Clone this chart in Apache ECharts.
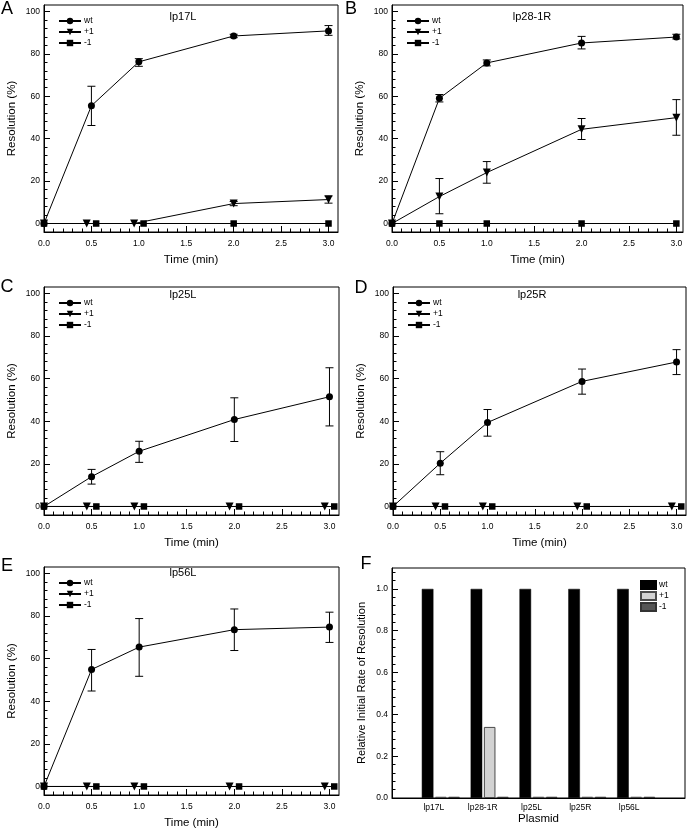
<!DOCTYPE html>
<html><head><meta charset="utf-8">
<script src="https://cdn.jsdelivr.net/npm/echarts@6/dist/echarts.min.js"></script>
<style>html,body{margin:0;padding:0;background:#fff}#c{width:688px;height:832px}</style>
</head><body><div id="c"></div>
<script>
// ---------- DATA ----------
const seriesNames = ['wt', '+1', '-1'];
const panelLetters = ['A', 'B', 'C', 'D', 'E', 'F'];
const panelTitles = ['lp17L', 'lp28-1R', 'lp25L', 'lp25R', 'lp56L'];
const xTickValues = [0, 0.5, 1, 1.5, 2, 2.5, 3];
const yTickValues = [0, 20, 40, 60, 80, 100];
const fTickValues = [0, 0.2, 0.4, 0.6, 0.8, 1.0];

// Panel A lp17L
const aWtX = [0, 0.5, 1, 2, 3];
const aWtY = [0, 55.5, 76.2, 88.4, 90.8];
const aWtLo = [0, 46.2, 74.1, 87.6, 88.7];
const aWtHi = [0, 64.7, 77.7, 89.2, 93.3];
const aP1X = [0, 0.45, 0.95, 2, 3];
const aP1Y = [0, 0, 0, 9.4, 11.3];
const aP1Lo = [0, 0, 0, 8.4, 9.6];
const aP1Hi = [0, 0, 0, 10.4, 13.0];
const aM1X = [0, 0.55, 1.05, 2, 3];
const aM1Y = [0, 0, 0, 0, 0];

// Panel B lp28-1R
const bWtX = [0, 0.5, 1, 2, 3];
const bWtY = [0, 59.0, 75.7, 85.1, 87.9];
const bWtLo = [0, 57.3, 74.3, 82.3, 87.0];
const bWtHi = [0, 60.8, 77.1, 88.2, 89.2];
const bP1X = [0, 0.5, 1, 2, 3];
const bP1Y = [0, 12.7, 24.0, 44.4, 49.9];
const bP1Lo = [0, 4.6, 19.0, 39.6, 41.6];
const bP1Hi = [0, 21.2, 29.2, 49.5, 58.4];
const bM1X = [0, 0.5, 1, 2, 3];
const bM1Y = [0, 0, 0, 0, 0];

// Panel C lp25L
const cWtX = [0, 0.5, 1, 2, 3];
const cWtY = [0, 14.0, 25.9, 40.8, 51.5];
const cWtLo = [0, 10.5, 20.7, 30.5, 37.8];
const cWtHi = [0, 17.4, 30.6, 51.0, 65.1];
const cP1X = [0, 0.45, 0.95, 1.95, 2.95];
const cP1Y = [0, 0, 0, 0, 0];
const cM1X = [0, 0.55, 1.05, 2.05, 3.05];
const cM1Y = [0, 0, 0, 0, 0];

// Panel D lp25R
const dWtX = [0, 0.5, 1, 2, 3];
const dWtY = [0, 20.3, 39.4, 58.7, 67.8];
const dWtLo = [0, 14.9, 33.0, 52.7, 61.9];
const dWtHi = [0, 25.7, 45.5, 64.5, 73.6];
const dP1X = [0, 0.45, 0.95, 1.95, 2.95];
const dP1Y = [0, 0, 0, 0, 0];
const dM1X = [0, 0.55, 1.05, 2.05, 3.05];
const dM1Y = [0, 0, 0, 0, 0];

// Panel E lp56L
const eWtX = [0, 0.5, 1, 2, 3];
const eWtY = [0, 54.9, 65.4, 73.6, 74.8];
const eWtLo = [0, 44.8, 51.7, 63.8, 67.6];
const eWtHi = [0, 64.3, 78.8, 83.3, 81.8];
const eP1X = [0, 0.45, 0.95, 1.95, 2.95];
const eP1Y = [0, 0, 0, 0, 0];
const eM1X = [0, 0.55, 1.05, 2.05, 3.05];
const eM1Y = [0, 0, 0, 0, 0];

// Panel F: relative initial rate of resolution
const plasmids = ['lp17L', 'lp28-1R', 'lp25L', 'lp25R', 'lp56L'];
const rateWt = [1.0, 1.0, 1.0, 1.0, 1.0];
const rateP1 = [0.006, 0.34, 0.006, 0.006, 0.006];
const rateM1 = [0.006, 0.006, 0.006, 0.006, 0.006];

// ---------- BUILD ----------
const FONT = '"Liberation Sans", Arial, Helvetica, sans-serif';
const zip2 = (xs, ys) => xs.map((x, i) => [x, ys[i]]);
const zip3 = (xs, lo, hi) => xs.map((x, i) => [x, lo[i], hi[i]]);

const panels = [
  { wt: [aWtX, aWtY, aWtLo, aWtHi], p1: [aP1X, aP1Y, aP1Lo, aP1Hi], m1: [aM1X, aM1Y] },
  { wt: [bWtX, bWtY, bWtLo, bWtHi], p1: [bP1X, bP1Y, bP1Lo, bP1Hi], m1: [bM1X, bM1Y] },
  { wt: [cWtX, cWtY, cWtLo, cWtHi], p1: [cP1X, cP1Y], m1: [cM1X, cM1Y] },
  { wt: [dWtX, dWtY, dWtLo, dWtHi], p1: [dP1X, dP1Y], m1: [dM1X, dM1Y] },
  { wt: [eWtX, eWtY, eWtLo, eWtHi], p1: [eP1X, eP1Y], m1: [eM1X, eM1Y] }
];

// layout (positions/sizes only)
const grids = [
  { left: 44, top: 5, width: 294, height: 227 },
  { left: 392, top: 5, width: 291, height: 227 },
  { left: 44, top: 287, width: 295, height: 228 },
  { left: 393, top: 287, width: 293, height: 228 },
  { left: 44, top: 567, width: 295, height: 228 },
  { left: 392, top: 568, width: 294, height: 230 }
];
const xMaxes = [3.1, 3.07, 3.1, 3.1, 3.1];
const legendPos = [[58, 16], [406, 16], [58, 298], [407, 298], [58, 578]];
const titlePos = [[183, 17], [532, 17], [183, 295], [532, 295], [183, 573]];
const letterPos = [[7, 9], [351, 9], [7, 287], [361, 288], [7, 566], [366, 564]];

function range(start, stop, step) {
  const out = [];
  for (let k = 0; ; k++) {
    const v = Math.round((start + k * step) * 1000) / 1000;
    if (v > stop + 1e-9) break;
    out.push(v);
  }
  return out;
}
const xAllTicks = range(0, 3.0, 0.1);
const yAllTicks = range(0, 100, 4);
const fAllTicks = range(0, 1.08, 0.04);

const black = '#000';
const tickLabel = { fontSize: 8.5, color: black, fontFamily: FONT };
const nameStyle = { fontSize: 11.5, color: black, fontFamily: FONT };

const xAxes = [], yAxes = [], series = [], legends = [];

function errRender(params, api) {
  const x = api.value(0), lo = api.value(1), hi = api.value(2);
  if (!(hi - lo > 0)) return null;
  const pH = api.coord([x, hi]), pL = api.coord([x, lo]);
  const hw = 4;
  const st = { stroke: black, lineWidth: 1 };
  return {
    type: 'group', children: [
      { type: 'line', shape: { x1: pH[0], y1: pH[1], x2: pL[0], y2: pL[1] }, style: st },
      { type: 'line', shape: { x1: pH[0] - hw, y1: pH[1], x2: pH[0] + hw, y2: pH[1] }, style: st },
      { type: 'line', shape: { x1: pL[0] - hw, y1: pL[1], x2: pL[0] + hw, y2: pL[1] }, style: st }
    ]
  };
}

panels.forEach((p, i) => {
  // main x axis: all (minor) ticks + labels
  xAxes.push({
    type: 'value', gridIndex: i, min: 0, max: xMaxes[i], position: 'bottom',
    axisLine: { show: true, onZero: false, lineStyle: { color: black, width: 1 } },
    axisTick: { show: true, inside: true, length: 3.5, customValues: xAllTicks, lineStyle: { color: black } },
    axisLabel: { customValues: xTickValues, formatter: v => v.toFixed(1), margin: 7, ...tickLabel },
    splitLine: { show: false },
    name: 'Time (min)', nameLocation: 'middle', nameGap: 22, nameTextStyle: nameStyle
  });
  // major x ticks (longer)
  xAxes.push({
    type: 'value', gridIndex: i, min: 0, max: xMaxes[i], position: 'bottom',
    axisLine: { show: false, onZero: false },
    axisTick: { show: true, inside: true, length: 6, customValues: xTickValues, lineStyle: { color: black } },
    axisLabel: { show: false }, splitLine: { show: false }
  });
  yAxes.push({
    type: 'value', gridIndex: i, min: -4, max: 103, position: 'left',
    axisLine: { show: true, onZero: false, lineStyle: { color: black, width: 1 } },
    axisTick: { show: true, inside: true, length: 3.5, customValues: yAllTicks, lineStyle: { color: black } },
    axisLabel: { customValues: yTickValues, margin: 4, ...tickLabel },
    splitLine: { show: false },
    name: 'Resolution (%)', nameLocation: 'middle', nameGap: 26, nameTextStyle: nameStyle
  });
  yAxes.push({
    type: 'value', gridIndex: i, min: -4, max: 103, position: 'left',
    axisLine: { show: false, onZero: false },
    axisTick: { show: true, inside: true, length: 6, customValues: yTickValues, lineStyle: { color: black } },
    axisLabel: { show: false }, splitLine: { show: false }
  });
  const xi = 2 * i, yi = 2 * i;
  const lineBase = {
    type: 'line', xAxisIndex: xi, yAxisIndex: yi, lineStyle: { color: black, width: 1 },
    itemStyle: { color: black }, showSymbol: true, animation: false, silent: true
  };
  series.push({ ...lineBase, name: seriesNames[2], symbol: 'rect', symbolSize: 6.5, data: zip2(p.m1[0], p.m1[1]), z: 2 });
  series.push({ ...lineBase, name: seriesNames[1], symbol: 'triangle', symbolRotate: 180, symbolSize: 8, data: zip2(p.p1[0], p.p1[1]), z: 3 });
  series.push({ ...lineBase, name: seriesNames[0], symbol: 'circle', symbolSize: 7, data: zip2(p.wt[0], p.wt[1]), z: 4 });
  series.push({
    type: 'custom', xAxisIndex: xi, yAxisIndex: yi, renderItem: errRender, silent: true, animation: false,
    encode: { x: 0, y: [1, 2] }, data: zip3(p.wt[0], p.wt[2], p.wt[3]), z: 5
  });
  if (p.p1.length > 2) {
    series.push({
      type: 'custom', xAxisIndex: xi, yAxisIndex: yi, renderItem: errRender, silent: true, animation: false,
      encode: { x: 0, y: [1, 2] }, data: zip3(p.p1[0], p.p1[2], p.p1[3]), z: 5
    });
  }
  legends.push({
    data: seriesNames, orient: 'vertical', left: legendPos[i][0], top: legendPos[i][1],
    itemWidth: 22, itemHeight: 8, itemGap: 1, padding: 0, selectedMode: false, symbolRotate: 'inherit',
    textStyle: { fontSize: 8.5, lineHeight: 10, color: black, fontFamily: FONT, padding: [0, 0, 0, -2] }
  });
});

// Panel F
const fBarNames = seriesNames.map(n => n + '\u00a0');
const pad = v => [null, ...v, null];
xAxes.push({
  type: 'category', gridIndex: 5, data: ['', ...plasmids, ''], boundaryGap: false,
  axisLine: { show: true, onZero: false, lineStyle: { color: black } },
  axisTick: { show: false },
  axisLabel: { margin: 5, ...tickLabel, padding: [0, 14, 0, 0] },
  splitLine: { show: false },
  name: 'Plasmid', nameLocation: 'middle', nameGap: 14, nameTextStyle: nameStyle
});
yAxes.push({
  type: 'value', gridIndex: 5, min: 0, max: 1.1, position: 'left',
  axisLine: { show: true, onZero: false, lineStyle: { color: black } },
  axisTick: { show: true, inside: true, length: 3.5, customValues: fAllTicks, lineStyle: { color: black } },
  axisLabel: { customValues: fTickValues, formatter: v => v.toFixed(1), margin: 4, ...tickLabel },
  splitLine: { show: false },
  name: 'Relative Initial Rate of Resolution', nameLocation: 'middle', nameGap: 25,
  nameTextStyle: { ...nameStyle, fontSize: 11 }
});
yAxes.push({
  type: 'value', gridIndex: 5, min: 0, max: 1.1, position: 'left',
  axisLine: { show: false, onZero: false },
  axisTick: { show: true, inside: true, length: 6, customValues: fTickValues, lineStyle: { color: black } },
  axisLabel: { show: false }, splitLine: { show: false }
});
const barX = xAxes.length - 1, barY = yAxes.length - 2;
const barBase = { type: 'bar', xAxisIndex: barX, yAxisIndex: barY, barWidth: 11.6, barGap: '14%', animation: false, silent: true };
series.push({ ...barBase, name: fBarNames[0], data: pad(rateWt), itemStyle: { color: '#000', borderColor: '#000', borderWidth: 0.5 } });
series.push({ ...barBase, name: fBarNames[1], data: pad(rateP1), itemStyle: { color: '#d2d2d2', borderColor: '#4a4a4a', borderWidth: 1 } });
series.push({ ...barBase, name: fBarNames[2], data: pad(rateM1), itemStyle: { color: '#555', borderColor: '#333', borderWidth: 1 } });
legends.push({
  data: fBarNames, orient: 'vertical', left: 640, top: 580, icon: 'rect',
  itemWidth: 15, itemHeight: 8, itemGap: 1, padding: 0, selectedMode: false,
  textStyle: { fontSize: 8.5, lineHeight: 10, color: black, fontFamily: FONT, padding: [0, 0, 0, -2] }
});

const graphics = [];
panelLetters.forEach((t, i) => {
  graphics.push({ type: 'text', x: letterPos[i][0], y: letterPos[i][1], silent: true,
    style: { text: t, font: '18px ' + FONT, fill: black, textAlign: 'center', textVerticalAlign: 'middle' } });
});
panelTitles.forEach((t, i) => {
  graphics.push({ type: 'text', x: titlePos[i][0], y: titlePos[i][1], silent: true,
    style: { text: t, font: '11px ' + FONT, fill: black, textAlign: 'center', textVerticalAlign: 'middle' } });
});

const option = {
  animation: false,
  backgroundColor: '#fff',
  textStyle: { fontFamily: FONT },
  grid: grids.map(g => ({ ...g, show: true, borderColor: black, borderWidth: 1, backgroundColor: 'transparent', containLabel: false })),
  xAxis: xAxes,
  yAxis: yAxes,
  legend: legends,
  series: series,
  graphic: graphics
};
const chart = echarts.init(document.getElementById('c'), null, { renderer: 'canvas' });
chart.setOption(option);
</script></body></html>
